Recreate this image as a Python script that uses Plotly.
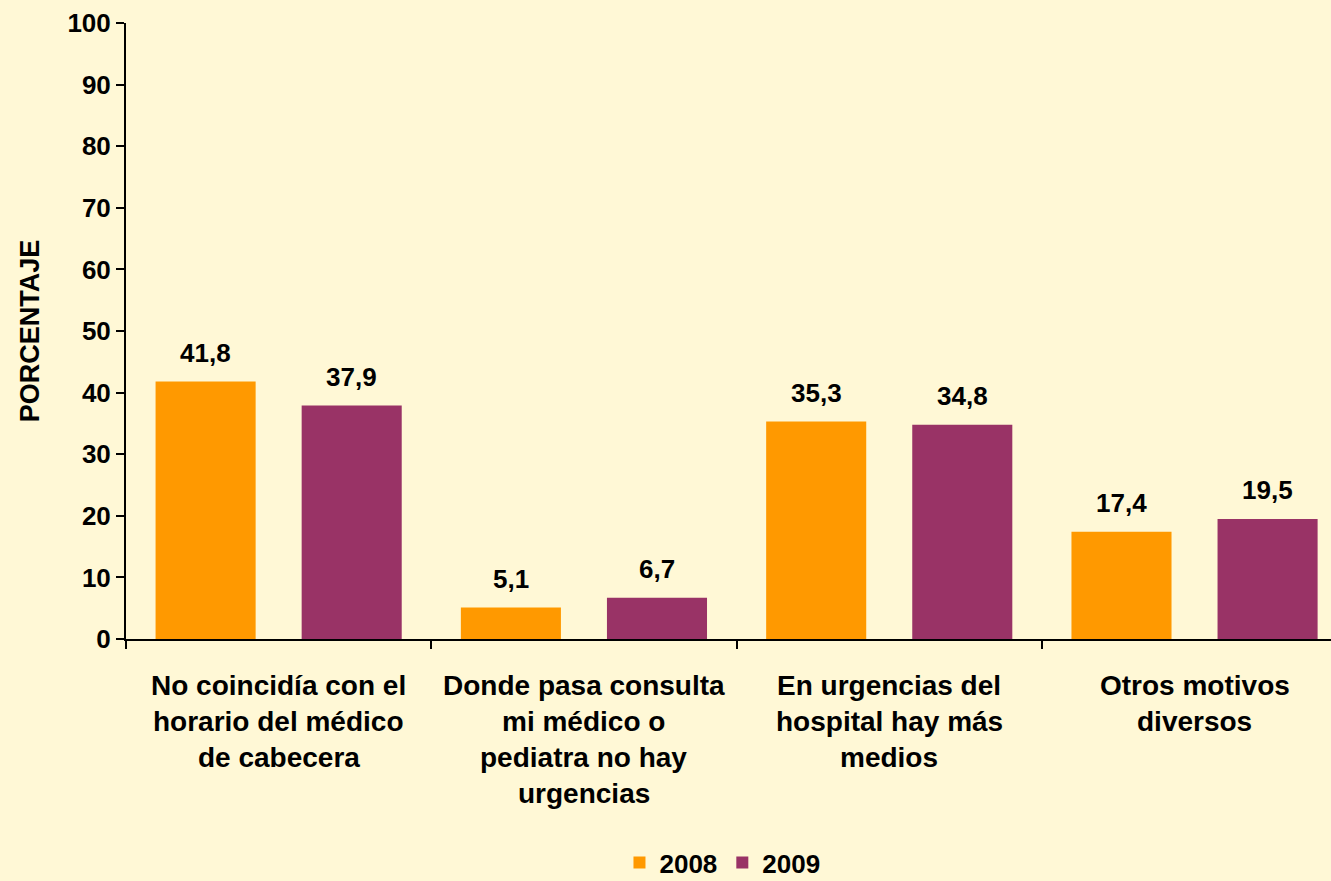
import plotly.graph_objects as go

categories = ["No coincidía con el<br>horario del médico<br>de cabecera",
              "Donde pasa consulta<br>mi médico o<br>pediatra no hay<br>urgencias",
              "En urgencias del<br>hospital hay más<br>medios",
              "Otros motivos<br>diversos"]
cat_keys = ["c1", "c2", "c3", "c4"]
series_names = ["2008", "2009"]
values_2008 = [41.8, 5.1, 35.3, 17.4]
values_2009 = [37.9, 6.7, 34.8, 19.5]
colors = ["#FF9900", "#993366"]
y_ticks = list(range(0, 101, 10))

BG = "#FFF8D6"
FONT = "Arial, Liberation Sans, sans-serif"

fig = go.Figure()
for name, vals, col in zip(series_names, [values_2008, values_2009], colors):
    fig.add_trace(go.Bar(x=cat_keys, y=vals, name=name, marker=dict(color=col, line=dict(width=0))))

annotations = []
# data labels
for vals, shift in zip([values_2008, values_2009], [-73, 73]):
    for k, v in zip(cat_keys, vals):
        annotations.append(dict(x=k, y=v, xref="x", yref="y", xshift=shift, yshift=12,
                                yanchor="bottom", showarrow=False,
                                text=f"{v:.1f}".replace(".", ","),
                                font=dict(family=FONT, size=26, color="black", weight="bold")))
# category labels, one line at a time for wide line spacing
for k, lab in zip(cat_keys, categories):
    for i, line in enumerate(lab.split("<br>")):
        annotations.append(dict(x=k, y=0, xref="x", yref="paper", yshift=-(46 + 36 * i),
                                yanchor="middle", showarrow=False, text=line,
                                font=dict(family=FONT, size=28, color="black", weight="bold")))

fig.update_layout(
    width=1331, height=881,
    paper_bgcolor=BG, plot_bgcolor=BG,
    margin=dict(l=126, r=0, t=23, b=242, autoexpand=False),
    barmode="group", bargap=0.043, bargroupgap=0.315,
    separators=",.",
    showlegend=True,
    legend=dict(orientation="h", x=0.495, xanchor="center", y=-0.363, yanchor="middle",
                font=dict(family=FONT, size=26, color="black", weight="bold"),
                itemwidth=30, tracegroupgap=0, bgcolor="rgba(0,0,0,0)"),
    annotations=annotations,
)
fig.update_xaxes(range=[-0.5, 3.447], showticklabels=False, tickson="boundaries",
                 ticks="outside", ticklen=8, tickwidth=2, tickcolor="black",
                 showline=True, linecolor="black", linewidth=2, showgrid=False, zeroline=False)
fig.update_yaxes(range=[0, 100], tickvals=y_ticks, ticks="outside", ticklen=8, tickwidth=2,
                 tickcolor="black", showline=True, linecolor="black", linewidth=2,
                 showgrid=False, zeroline=False,
                 tickfont=dict(family=FONT, size=26, color="black", weight="bold"),
                 title=dict(text="PORCENTAJE", standoff=20,
                            font=dict(family=FONT, size=27, color="black", weight="bold")))

fig.write_html("out.html", config={"displayModeBar": False},
               post_script="document.body.style.margin='0';document.body.style.background='" + BG + "';")
